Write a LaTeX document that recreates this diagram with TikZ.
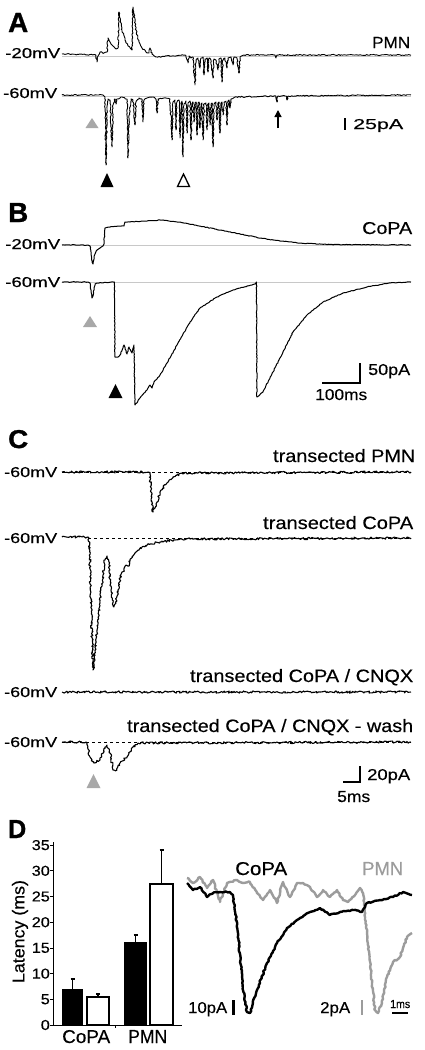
\documentclass[tikz,border=0pt]{standalone}
\usepackage{fontspec}
\setmainfont[FakeBold=0.35]{Liberation Sans}
\newfontfamily\heavyfont[FakeBold=1.2]{Liberation Sans Bold}
\usepackage{graphicx}
\usetikzlibrary{decorations.pathmorphing,arrows.meta}
\newcommand{\tx}[3]{\resizebox{#1pt}{#2pt}{#3}}
\definecolor{trigray}{HTML}{A8A8A8}
\definecolor{tracegray}{HTML}{9C9C9C}
\definecolor{basegray}{HTML}{C8C8C8}
\tikzset{
  lbl/.style={inner sep=0pt, anchor=base west},
  trace/.style={line width=0.9pt, line join=round, decorate, decoration={random steps, segment length=1.4pt, amplitude=0.6pt}},
  smooth trace/.style={line width=1pt, line join=round, decorate, decoration={random steps, segment length=1.5pt, amplitude=0.35pt}},
  noisy trace/.style={line width=1.1pt, line join=round, decorate, decoration={random steps, segment length=1.3pt, amplitude=1.1pt}},
  thick trace/.style={line width=2.4pt, line join=round, decorate, decoration={random steps, segment length=2pt, amplitude=0.7pt}},
  baseline/.style={basegray, line width=0.6pt},
  dashbase/.style={black, line width=0.8pt, dash pattern=on 3pt off 3pt},
  scalebar/.style={line width=1.6pt},
}
\begin{document}
\pgfmathsetseed{7}
\begin{tikzpicture}[x=1pt,y=-1pt]
\useasboundingbox[fill=white] (0,0) rectangle (424,1050);

% ================= Panel A =================
\node[lbl] (A) at (8,32) {\tx{20}{19}{\heavyfont A}};
\node[lbl] (a20) at (5,58) {\tx{55}{10}{-20mV}};
\node[lbl] (aPMN) at (372,48) {\tx{38}{11}{PMN}};
\node[lbl] (a60) at (3,98) {\tx{54}{10}{-60mV}};
\node[lbl] (a25) at (353,129) {\tx{50}{10}{25pA}};
\draw[baseline] (62,56) -- (411,56);
\draw[baseline] (62,96) -- (411,96);
\draw[trace] (62,54) -- (96,55) -- (97,62) -- (98,56) -- (100,52) -- (104,53) -- (107,52) -- (108,38) -- (110,42) -- (113,46) -- (116,49) -- (118,48) -- (119,12) -- (120,18) -- (122,30) -- (125,40) -- (128,46) -- (131,49) -- (132,50) -- (133,7) -- (134,14) -- (136,30) -- (139,42) -- (142,48) -- (146,52) -- (149,53) -- (150,48) -- (152,54) -- (156,57) -- (185,55) -- (186,57) -- (188,63) -- (189,56) -- (191,58) -- (193,57) -- (195,85) -- (196,60) -- (198,58) -- (200,68) -- (201,58) -- (203,57) -- (204,75) -- (205,59) -- (207,58) -- (208,72) -- (209,58) -- (211,60) -- (213,78) -- (214,59) -- (216,60) -- (218,70) -- (219,59) -- (221,58) -- (222,82) -- (223,60) -- (225,58) -- (227,68) -- (228,58) -- (231,57) -- (233,65) -- (234,57) -- (237,58) -- (239,73) -- (240,57) -- (244,55) -- (275,55) -- (276,58) -- (277,55) -- (411,55);
\draw[trace] (62,95) -- (103,95) -- (105,97) -- (106,165) -- (107,110) -- (108,99) -- (110,100) -- (112,147) -- (113,105) -- (115,99) -- (116,104) -- (117,99) -- (120,98) -- (122,97) -- (127,99) -- (128,158) -- (129,120) -- (131,99) -- (133,100) -- (135,125) -- (136,102) -- (139,98) -- (142,99) -- (143,122) -- (144,100) -- (147,98) -- (153,97) -- (156,99) -- (157,113) -- (158,99) -- (164,98) -- (170,99) -- (172,140) -- (173,102) -- (175,100) -- (176,130) -- (177,102) -- (179,100) -- (180,138) -- (181,103) -- (182,101) -- (183,157) -- (184,104) -- (186,101) -- (187,133) -- (188,103) -- (190,101) -- (191,140) -- (192,104) -- (193,102) -- (194,122) -- (195,104) -- (196,102) -- (197,135) -- (198,104) -- (199,102) -- (200,128) -- (201,104) -- (202,103) -- (203,140) -- (204,104) -- (206,103) -- (207,130) -- (208,104) -- (209,103) -- (210,125) -- (211,104) -- (212,103) -- (213,147) -- (214,104) -- (216,102) -- (217,120) -- (218,103) -- (219,102) -- (220,133) -- (221,103) -- (222,102) -- (223,115) -- (224,102) -- (226,101) -- (227,125) -- (228,101) -- (229,100) -- (230,108) -- (231,99) -- (235,97) -- (276,96) -- (277,102) -- (278,96) -- (286,96) -- (287,100) -- (288,96) -- (411,95);
% markers
\fill[trigray] (85.5,128) -- (92,118) -- (98.5,128) -- cycle;
\fill[black] (100.5,187) -- (107,173) -- (113.5,187) -- cycle;
\draw[line width=1.3pt, fill=white, line join=miter] (177.5,186.5) -- (183.5,174) -- (189.5,186.5) -- cycle;
\coordinate (arrTail) at (278,128);
\coordinate (arrTip) at (278,110);
\draw[line width=1.3pt, -{Triangle[length=7pt,width=7pt]}] (arrTail) -- (arrTip);
\draw[scalebar] (345,118) -- (345,130);

% ================= Panel B =================
\node[lbl] (B) at (8,222) {\tx{20}{19}{\heavyfont B}};
\node[lbl] (bCoPA) at (362,234) {\tx{50}{12}{CoPA}};
\node[lbl] (b20) at (5,249) {\tx{55}{10}{-20mV}};
\node[lbl] (b60) at (5,287) {\tx{55}{10}{-60mV}};
\node[lbl] (b50) at (368,375) {\tx{42}{11}{50pA}};
\node[lbl] (b100) at (315,400) {\tx{52}{11}{100ms}};
\draw[baseline] (62,245) -- (411,245);
\draw[baseline] (62,282) -- (411,282);
\draw[smooth trace] (62,245) -- (88,245) -- (90,246) -- (91,252) -- (92,262) -- (93,264) -- (94,257) -- (95,254) -- (97,250) -- (100,248) -- (103,246) -- (104,244) -- (105,228) -- (110,227) -- (118,226) -- (124,226) -- (125,222) -- (130,222) -- (145,221) -- (160,220) -- (180,222) -- (200,226) -- (220,230) -- (240,234) -- (260,238) -- (280,241) -- (300,243) -- (330,244.5) -- (411,245);
\draw[smooth trace] (62,282) -- (88,282) -- (90,283) -- (91,290) -- (92,298) -- (93,296) -- (94,288) -- (95,284) -- (97,283) -- (114.5,282) -- (115,357) -- (118,357) -- (120,355) -- (124,345) -- (127,354) -- (129,347) -- (132,353) -- (134,345) -- (135,405) -- (140,398) -- (147,390) -- (150,385) -- (152,388) -- (154,382) -- (160,375) -- (167,363) -- (177,345) -- (190,322) -- (200,308) -- (217,297) -- (233,290) -- (255,284) -- (256.5,282) -- (257,397) -- (263,392) -- (273,372) -- (283,352) -- (293,332) -- (307,315) -- (323,302) -- (343,293) -- (367,287) -- (390,283) -- (411,282);
\fill[trigray] (83,327) -- (90,316) -- (97,327) -- cycle;
\fill[black] (108.5,398) -- (115.5,384) -- (122.5,398) -- cycle;
\draw[scalebar] (322,383) -- (360,383) -- (360,363);

% ================= Panel C =================
\node[lbl] (C) at (8,448) {\tx{20}{18}{\heavyfont C}};
\node[lbl] (cT1) at (273,462) {\tx{142}{13}{transected PMN}};
\node[lbl] (c60a) at (4,477) {\tx{53}{10}{-60mV}};
\node[lbl] (cT2) at (263,529) {\tx{150}{13}{transected CoPA}};
\node[lbl] (c60b) at (4,543) {\tx{53}{10}{-60mV}};
\node[lbl] (cT3) at (190,682) {\tx{223}{13}{transected CoPA / CNQX}};
\node[lbl] (c60c) at (4,697) {\tx{53}{10}{-60mV}};
\node[lbl] (cT4) at (127,732) {\tx{286}{13}{transected CoPA / CNQX - wash}};
\node[lbl] (c60d) at (4,747) {\tx{53}{10}{-60mV}};
\node[lbl] (c20) at (367,780) {\tx{43}{11}{20pA}};
\node[lbl] (c5) at (337,802) {\tx{33}{11}{5ms}};
\draw[dashbase] (62,472) -- (411,472);
\draw[dashbase] (88,538) -- (411,538);
\draw[dashbase] (62,742) -- (411,742);
\draw[noisy trace] (62,472) -- (148,472) -- (150,474) -- (151,490) -- (152,505) -- (153,512) -- (155,508) -- (157,502) -- (160,492) -- (163,488) -- (167,483) -- (173,477) -- (182,473) -- (411,472);
\draw[noisy trace] (62,537) -- (88,537) -- (89,538) -- (91,600) -- (93,670) -- (95,650) -- (97,630) -- (100,600) -- (103,575) -- (105,560) -- (107,556) -- (109,565) -- (111,590) -- (114,607) -- (116,603) -- (118,590) -- (120,578) -- (122,572) -- (124,570) -- (126,565) -- (128,566) -- (130,560) -- (133,556) -- (135,553) -- (138,550) -- (142,547) -- (150,544) -- (160,542) -- (175,540) -- (190,539) -- (411,538);
\draw[noisy trace] (62,692) -- (411,692);
\draw[noisy trace] (62,742) -- (86,742) -- (87,743) -- (90,757) -- (94,763) -- (100,760) -- (105,747) -- (107,745) -- (110,753) -- (113,770) -- (117,770) -- (120,763) -- (127,757) -- (133,747) -- (138,743) -- (411,742);
\fill[trigray] (86.5,788) -- (93.5,774) -- (100.5,788) -- cycle;
\draw[scalebar] (343,782) -- (360,782) -- (360,766);

% ================= Panel D =================
\node[lbl] (D) at (8,838) {\tx{18}{18}{\heavyfont D}};
% bar chart
\fill[black] (62,1025) rectangle (83,989);
\draw[line width=1.3pt] (87,1025) rectangle (109,997);
\fill[black] (124,1025) rectangle (147,942);
\draw[line width=1.3pt] (150,1025) rectangle (173,884);
\draw[line width=1.3pt] (72.5,989) -- (72.5,979) (70.5,979) -- (74.5,979);
\draw[line width=1.3pt] (98,997) -- (98,994) (96,994) -- (100,994);
\draw[line width=1.3pt] (135.5,942) -- (135.5,935) (133.5,935) -- (137.5,935);
\draw[line width=1.3pt] (161.5,884) -- (161.5,850) (159.5,850) -- (163.5,850);
\draw[line width=1pt] (53,842) -- (53,1025) -- (182,1025);
\draw[line width=1pt] (115,1025) -- (115,1028);
\foreach \v/\w in {0/9,5/9,10/18,15/18,20/18,25/18,30/18,35/18} {
  \draw[line width=0.8pt] (50,{1025-5.14*\v}) -- (53,{1025-5.14*\v});
  \node[inner sep=0pt, anchor=east] (tick\v) at (50,{1025-5.14*\v}) {\tx{\w}{10}{\v}};
}
\node[inner sep=0pt, rotate=90] (ylab) at (20,931.5) {\tx{103}{12.5}{Latency (ms)}};
\node[lbl] (xCoPA) at (62,1043) {\tx{48}{13}{CoPA}};
\node[lbl] (xPMN) at (128,1043) {\tx{39}{13}{PMN}};
% traces
\node[lbl] (dCoPA) at (235,875) {\tx{52}{13}{CoPA}};
\node[lbl, text=tracegray] (dPMN) at (362,875) {\tx{41}{13}{PMN}};
\draw[thick trace, tracegray] (187,878) -- (193,883) -- (200,877) -- (207,888) -- (213,880) -- (220,902) -- (227,883) -- (237,880) -- (243,883) -- (250,882) -- (257,893) -- (263,900) -- (270,890) -- (277,903) -- (283,882) -- (290,897) -- (297,883) -- (303,883) -- (310,887) -- (317,897) -- (323,890) -- (330,897) -- (337,890) -- (343,900) -- (348,902) -- (353,897) -- (360,888) -- (363,893) -- (367,933) -- (372,983) -- (375,1010) -- (378,1013) -- (382,1003) -- (387,977) -- (393,962) -- (400,957) -- (407,937) -- (412,933);
\draw[thick trace, black] (187,883) -- (193,890) -- (200,887) -- (207,897) -- (213,893) -- (220,892) -- (230,892) -- (233,895) -- (238,933) -- (243,990) -- (247,1012) -- (250,1013) -- (257,990) -- (267,963) -- (277,943) -- (287,928) -- (297,920) -- (310,912) -- (320,908) -- (330,915) -- (340,912) -- (353,910) -- (362,912) -- (367,903) -- (380,900) -- (393,897) -- (403,892) -- (412,895);
\node[lbl] (d10) at (188,1013) {\tx{39}{11}{10pA}};
\draw[line width=2.6pt] (233.5,1000) -- (233.5,1015);
\node[lbl] (d2) at (320,1013) {\tx{30}{11}{2pA}};
\draw[line width=2.6pt, tracegray] (362,1000) -- (362,1015);
\node[lbl] (d1) at (390,1008) {\tx{20}{8}{1ms}};
\draw[line width=2.6pt] (392,1013) -- (408,1013);
\end{tikzpicture}
\end{document}
